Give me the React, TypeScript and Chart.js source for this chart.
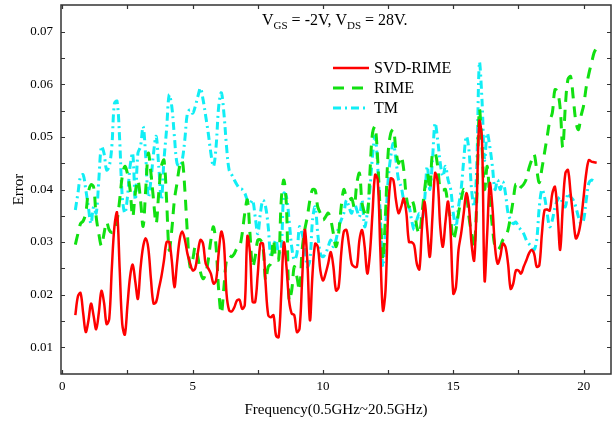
import React, { useEffect, useRef } from "react";
import { Chart, registerables } from "chart.js";
Chart.register(...registerables);

const freq = [
  0.5, 0.6, 0.7, 0.8, 0.9, 1.0, 1.1, 1.2, 1.3, 1.4,
  1.5, 1.6, 1.7, 1.8, 1.9, 2.0, 2.1, 2.2, 2.3, 2.4,
  2.5, 2.6, 2.7, 2.8, 2.9, 3.0, 3.1, 3.2, 3.3, 3.4,
  3.5, 3.6, 3.7, 3.8, 3.9, 4.0, 4.1, 4.2, 4.3, 4.4,
  4.5, 4.6, 4.7, 4.8, 4.9, 5.0, 5.1, 5.2, 5.3, 5.4,
  5.5, 5.6, 5.7, 5.8, 5.9, 6.0, 6.1, 6.2, 6.3, 6.4,
  6.5, 6.6, 6.7, 6.8, 6.9, 7.0, 7.1, 7.2, 7.3, 7.4,
  7.5, 7.6, 7.7, 7.8, 7.9, 8.0, 8.1, 8.2, 8.3, 8.4,
  8.5, 8.6, 8.7, 8.8, 8.9, 9.0, 9.1, 9.2, 9.3, 9.4,
  9.5, 9.6, 9.7, 9.8, 9.9, 10.0, 10.1, 10.2, 10.3, 10.4,
  10.5, 10.6, 10.7, 10.8, 10.9, 11.0, 11.1, 11.2, 11.3, 11.4,
  11.5, 11.6, 11.7, 11.8, 11.9, 12.0, 12.1, 12.2, 12.3, 12.4,
  12.5, 12.6, 12.7, 12.8, 12.9, 13.0, 13.1, 13.2, 13.3, 13.4,
  13.5, 13.6, 13.7, 13.8, 13.9, 14.0, 14.1, 14.2, 14.3, 14.4,
  14.5, 14.6, 14.7, 14.8, 14.9, 15.0, 15.1, 15.2, 15.3, 15.4,
  15.5, 15.6, 15.7, 15.8, 15.9, 16.0, 16.1, 16.2, 16.3, 16.4,
  16.5, 16.6, 16.7, 16.8, 16.9, 17.0, 17.1, 17.2, 17.3, 17.4,
  17.5, 17.6, 17.7, 17.8, 17.9, 18.0, 18.1, 18.2, 18.3, 18.4,
  18.5, 18.6, 18.7, 18.8, 18.9, 19.0, 19.1, 19.2, 19.3, 19.4,
  19.5, 19.6, 19.7, 19.8, 19.9, 20.0, 20.1, 20.2, 20.3, 20.4,
  20.5,
];

const svdRime = [
  0.0161, 0.0197, 0.0203, 0.0165, 0.0129, 0.0150, 0.0183, 0.0160, 0.0134, 0.0165,
  0.0207, 0.0185, 0.0144, 0.0154, 0.0250, 0.0330, 0.0356, 0.0250, 0.0144, 0.0124,
  0.0180, 0.0234, 0.0257, 0.0225, 0.0192, 0.0250, 0.0291, 0.0307, 0.0288, 0.0230,
  0.0183, 0.0186, 0.0210, 0.0234, 0.0265, 0.0300, 0.0300, 0.0265, 0.0214, 0.0260,
  0.0304, 0.0320, 0.0305, 0.0278, 0.0260, 0.0246, 0.0250, 0.0280, 0.0304, 0.0297,
  0.0259, 0.0250, 0.0240, 0.0221, 0.0227, 0.0280, 0.0320, 0.0297, 0.0202, 0.0170,
  0.0168, 0.0176, 0.0189, 0.0190, 0.0173, 0.0180, 0.0311, 0.0280, 0.0186, 0.0186,
  0.0240, 0.0297, 0.0297, 0.0221, 0.0161, 0.0157, 0.0161, 0.0122, 0.0119, 0.0202,
  0.0299, 0.0253, 0.0189, 0.0164, 0.0161, 0.0129, 0.0135, 0.0227, 0.0323, 0.0265,
  0.0151, 0.0240, 0.0297, 0.0291, 0.0246, 0.0227, 0.0240, 0.0259, 0.0281, 0.0253,
  0.0208, 0.0214, 0.0278, 0.0320, 0.0323, 0.0294, 0.0259, 0.0253, 0.0253, 0.0304,
  0.0323, 0.0291, 0.0240, 0.0278, 0.0355, 0.0428, 0.0418, 0.0285, 0.0170, 0.0208,
  0.0355, 0.0421, 0.0418, 0.0380, 0.0355, 0.0367, 0.0383, 0.0355, 0.0300, 0.0300,
  0.0294, 0.0259, 0.0248, 0.0329, 0.0377, 0.0323, 0.0272, 0.0348, 0.0431, 0.0415,
  0.0329, 0.0291, 0.0339, 0.0377, 0.0316, 0.0202, 0.0214, 0.0285, 0.0316, 0.0355,
  0.0393, 0.0367, 0.0297, 0.0265, 0.0380, 0.0530, 0.0495, 0.0227, 0.0316, 0.0412,
  0.0367, 0.0291, 0.0259, 0.0272, 0.0297, 0.0291, 0.0259, 0.0211, 0.0221, 0.0246,
  0.0246, 0.0240, 0.0253, 0.0265, 0.0278, 0.0285, 0.0278, 0.0253, 0.0256, 0.0316,
  0.0361, 0.0362, 0.0360, 0.0393, 0.0405, 0.0355, 0.0285, 0.0367, 0.0431, 0.0437,
  0.0393, 0.0348, 0.0307, 0.0316, 0.0342, 0.0386, 0.0431, 0.0456, 0.0453, 0.0452,
  0.0451,
];

const rime = [
  0.0295, 0.0316, 0.0335, 0.0340, 0.0355, 0.0395, 0.0409, 0.0405, 0.0348, 0.0316,
  0.0293, 0.0316, 0.0338, 0.0323, 0.0318, 0.0320, 0.0340, 0.0380, 0.0425, 0.0444,
  0.0430, 0.0400, 0.0348, 0.0393, 0.0418, 0.0380, 0.0330, 0.0400, 0.0469, 0.0431,
  0.0380, 0.0335, 0.0393, 0.0444, 0.0456, 0.0380, 0.0285, 0.0323, 0.0380, 0.0412,
  0.0444, 0.0456, 0.0400, 0.0316, 0.0253, 0.0266, 0.0291, 0.0272, 0.0243, 0.0230,
  0.0240, 0.0266, 0.0304, 0.0329, 0.0291, 0.0208, 0.0164, 0.0214, 0.0266, 0.0275,
  0.0272, 0.0278, 0.0288, 0.0291, 0.0316, 0.0355, 0.0380, 0.0316, 0.0253, 0.0272,
  0.0304, 0.0304, 0.0291, 0.0227, 0.0253, 0.0259, 0.0304, 0.0266, 0.0266, 0.0380,
  0.0418, 0.0367, 0.0189, 0.0208, 0.0253, 0.0234, 0.0208, 0.0285, 0.0323, 0.0348,
  0.0380, 0.0400, 0.0399, 0.0367, 0.0355, 0.0342, 0.0348, 0.0355, 0.0342, 0.0316,
  0.0291, 0.0316, 0.0367, 0.0400, 0.0386, 0.0380, 0.0383, 0.0367, 0.0412, 0.0431,
  0.0374, 0.0355, 0.0348, 0.0431, 0.0507, 0.0520, 0.0456, 0.0355, 0.0266, 0.0355,
  0.0469, 0.0507, 0.0514, 0.0475, 0.0450, 0.0463, 0.0437, 0.0386, 0.0367, 0.0380,
  0.0367, 0.0329, 0.0316, 0.0355, 0.0400, 0.0431, 0.0400, 0.0469, 0.0470, 0.0444,
  0.0400, 0.0399, 0.0400, 0.0367, 0.0342, 0.0304, 0.0323, 0.0355, 0.0380, 0.0400,
  0.0393, 0.0348, 0.0316, 0.0291, 0.0380, 0.0552, 0.0482, 0.0400, 0.0444, 0.0380,
  0.0329, 0.0291, 0.0285, 0.0291, 0.0304, 0.0310, 0.0323, 0.0350, 0.0380, 0.0410,
  0.0400, 0.0405, 0.0410, 0.0420, 0.0440, 0.0455, 0.0467, 0.0438, 0.0413, 0.0440,
  0.0470, 0.0500, 0.0530, 0.0546, 0.0590, 0.0585, 0.0555, 0.0480, 0.0560, 0.0610,
  0.0615, 0.0575, 0.0530, 0.0514, 0.0540, 0.0560, 0.0595, 0.0620, 0.0640, 0.0660,
  0.0670,
];

const tm = [
  0.0361, 0.0393, 0.0425, 0.0428, 0.0400, 0.0367, 0.0335, 0.0367, 0.0355, 0.0418,
  0.0482, 0.0469, 0.0437, 0.0444, 0.0482, 0.0564, 0.0568, 0.0495, 0.0386, 0.0355,
  0.0386, 0.0444, 0.0469, 0.0380, 0.0469, 0.0482, 0.0520, 0.0463, 0.0386, 0.0418,
  0.0469, 0.0501, 0.0444, 0.0380, 0.0456, 0.0514, 0.0580, 0.0558, 0.0501, 0.0450,
  0.0444, 0.0456, 0.0495, 0.0545, 0.0552, 0.0545, 0.0558, 0.0577, 0.0593, 0.0571,
  0.0540, 0.0507, 0.0469, 0.0444, 0.0482, 0.0558, 0.0584, 0.0545, 0.0482, 0.0437,
  0.0428, 0.0418, 0.0409, 0.0402, 0.0400, 0.0393, 0.0380, 0.0374, 0.0380, 0.0348,
  0.0316, 0.0355, 0.0380, 0.0367, 0.0329, 0.0272, 0.0291, 0.0304, 0.0278, 0.0291,
  0.0393, 0.0386, 0.0342, 0.0291, 0.0266, 0.0278, 0.0329, 0.0316, 0.0291, 0.0253,
  0.0266, 0.0342, 0.0367, 0.0316, 0.0278, 0.0272, 0.0278, 0.0291, 0.0304, 0.0291,
  0.0304, 0.0329, 0.0342, 0.0355, 0.0380, 0.0367, 0.0355, 0.0374, 0.0361, 0.0348,
  0.0380, 0.0329, 0.0355, 0.0400, 0.0463, 0.0501, 0.0444, 0.0348, 0.0253, 0.0329,
  0.0418, 0.0463, 0.0488, 0.0456, 0.0418, 0.0405, 0.0380, 0.0367, 0.0367, 0.0342,
  0.0323, 0.0342, 0.0355, 0.0342, 0.0380, 0.0444, 0.0400, 0.0456, 0.0526, 0.0495,
  0.0450, 0.0425, 0.0444, 0.0418, 0.0400, 0.0355, 0.0329, 0.0367, 0.0400, 0.0456,
  0.0501, 0.0475, 0.0400, 0.0367, 0.0444, 0.0641, 0.0571, 0.0456, 0.0507, 0.0482,
  0.0444, 0.0400, 0.0418, 0.0400, 0.0415, 0.0393, 0.0355, 0.0342, 0.0335, 0.0338,
  0.0329, 0.0323, 0.0316, 0.0304, 0.0297, 0.0291, 0.0285, 0.0304, 0.0367, 0.0400,
  0.0386, 0.0355, 0.0329, 0.0342, 0.0367, 0.0380, 0.0386, 0.0374, 0.0367, 0.0393,
  0.0386, 0.0380, 0.0367, 0.0348, 0.0335, 0.0342, 0.0380, 0.0412, 0.0418, 0.0416,
  0.0415,
];

const seriesNames = ["SVD-RIME", "RIME", "TM"];
const xTickValues = [0, 5, 10, 15, 20];
const xTickMarks = [0, 2.5, 5, 7.5, 10, 12.5, 15, 17.5, 20];
const yTickValues = [0.01, 0.02, 0.03, 0.04, 0.05, 0.06, 0.07];
const yTickMarks = [0.01, 0.015, 0.02, 0.025, 0.03, 0.035, 0.04, 0.045, 0.05, 0.055, 0.06, 0.065, 0.07];

const FONT = "'Liberation Serif', 'Times New Roman', serif";
const RED = "#ff0000";
const GREEN = "#11e011";
const CYAN = "#11eef5";
const DASH_RIME = [11, 8];
const DASH_TM = [8, 4, 2, 4];

const toPoints = (ys: number[]) =>
  freq.map((x, i) => ({ x, y: ys[i] })).filter((p) => p.y !== undefined);

const decorPlugin = {
  id: "decor",
  afterDraw(chart: any) {
    const { ctx, chartArea: a, scales } = chart;
    const xs = scales.x;
    const ys = scales.y;
    ctx.save();
    ctx.strokeStyle = "#333";
    ctx.lineWidth = 1.5;
    ctx.setLineDash([]);
    ctx.strokeRect(a.left, a.top, a.right - a.left, a.bottom - a.top);
    ctx.lineWidth = 1.2;
    const L = 4;
    ctx.beginPath();
    for (const v of xTickMarks) {
      const px = Math.round(xs.getPixelForValue(v)) + 0.5;
      ctx.moveTo(px, a.bottom);
      ctx.lineTo(px, a.bottom - L);
      ctx.moveTo(px, a.top);
      ctx.lineTo(px, a.top + L);
    }
    for (const v of yTickMarks) {
      const py = Math.round(ys.getPixelForValue(v)) + 0.5;
      ctx.moveTo(a.left, py);
      ctx.lineTo(a.left + L, py);
      ctx.moveTo(a.right, py);
      ctx.lineTo(a.right - L, py);
    }
    ctx.stroke();

    const legend = [
      { name: seriesNames[0], color: RED, dash: [] as number[], w: 2.5 },
      { name: seriesNames[1], color: GREEN, dash: DASH_RIME, w: 3 },
      { name: seriesNames[2], color: CYAN, dash: DASH_TM, w: 3 },
    ];
    ctx.font = `16px ${FONT}`;
    ctx.textBaseline = "middle";
    ctx.textAlign = "left";
    legend.forEach((it, i) => {
      const y = 68 + i * 20;
      ctx.strokeStyle = it.color;
      ctx.lineWidth = it.w;
      ctx.setLineDash(it.dash);
      ctx.beginPath();
      ctx.moveTo(333, y);
      ctx.lineTo(369, y);
      ctx.stroke();
      ctx.setLineDash([]);
      ctx.fillStyle = "#000";
      ctx.fillText(it.name, 374, y + 1);
    });

    const parts: [string, boolean][] = [
      ["V", false],
      ["GS", true],
      [" = -2V, V", false],
      ["DS", true],
      [" = 28V.", false],
    ];
    const mainFont = `16px ${FONT}`;
    const subFont = `11px ${FONT}`;
    ctx.textBaseline = "alphabetic";
    let x = 262;
    const base = 25;
    for (const [t, sub] of parts) {
      ctx.font = sub ? subFont : mainFont;
      ctx.fillText(t, x, sub ? base + 4 : base);
      x += ctx.measureText(t).width;
    }
    ctx.restore();
  },
};

export default function App() {
  const ref = useRef<HTMLCanvasElement | null>(null);
  useEffect(() => {
    if (!ref.current) return;
    const chart = new Chart(ref.current, {
      type: "line",
      data: {
        datasets: [
          {
            label: seriesNames[0],
            data: toPoints(svdRime),
            borderColor: RED,
            borderWidth: 2.5,
            pointRadius: 0,
            tension: 0.35,
            fill: false,
          },
          {
            label: seriesNames[1],
            data: toPoints(rime),
            borderColor: GREEN,
            borderWidth: 3,
            borderDash: DASH_RIME,
            pointRadius: 0,
            tension: 0.35,
            fill: false,
          },
          {
            label: seriesNames[2],
            data: toPoints(tm),
            borderColor: CYAN,
            borderWidth: 3,
            borderDash: DASH_TM,
            pointRadius: 0,
            tension: 0.35,
            fill: false,
          },
        ],
      },
      options: {
        animation: false,
        responsive: false,
        events: [],
        layout: { padding: { left: 0, right: 2, top: 5, bottom: 0 } },
        plugins: { legend: { display: false }, tooltip: { enabled: false }, title: { display: false } },
        scales: {
          x: {
            type: "linear",
            min: -0.05,
            max: 21.05,
            afterBuildTicks: (s: any) => {
              s.ticks = xTickValues.map((v) => ({ value: v }));
            },
            afterFit: (s: any) => {
              s.height = 47;
              s.paddingLeft = 0;
              s.paddingRight = 0;
              s.paddingTop = 0;
              s.paddingBottom = 0;
            },
            ticks: {
              color: "#000",
              font: { family: FONT, size: 13 },
              padding: 5,
              maxRotation: 0,
              autoSkip: false,
              callback: (v: any) => String(v),
            },
            grid: { display: false, drawTicks: false },
            border: { display: false },
            title: {
              display: true,
              text: "Frequency(0.5GHz~20.5GHz)",
              color: "#000",
              font: { family: FONT, size: 15 },
              padding: { top: 0, bottom: 2 },
            },
          },
          y: {
            type: "linear",
            min: 0.0049,
            max: 0.0751,
            afterBuildTicks: (s: any) => {
              s.ticks = yTickValues.map((v) => ({ value: v }));
            },
            afterFit: (s: any) => {
              s.width = 61;
              s.paddingLeft = 0;
              s.paddingRight = 0;
              s.paddingTop = 0;
              s.paddingBottom = 0;
            },
            ticks: {
              color: "#000",
              font: { family: FONT, size: 13 },
              padding: 8,
              autoSkip: false,
              callback: (v: any) => Number(v).toFixed(2),
            },
            grid: { display: false, drawTicks: false },
            border: { display: false },
            title: {
              display: true,
              text: "Error",
              color: "#000",
              font: { family: FONT, size: 15 },
              padding: { top: 10, bottom: 0 },
            },
          },
        },
      },
      plugins: [decorPlugin],
    });
    return () => chart.destroy();
  }, []);
  return (
    <div style={{ position: "absolute", left: 0, top: 0, width: 613, height: 421, background: "#fff" }}>
      <canvas ref={ref} width={613} height={421} style={{ display: "block" }} />
    </div>
  );
}
